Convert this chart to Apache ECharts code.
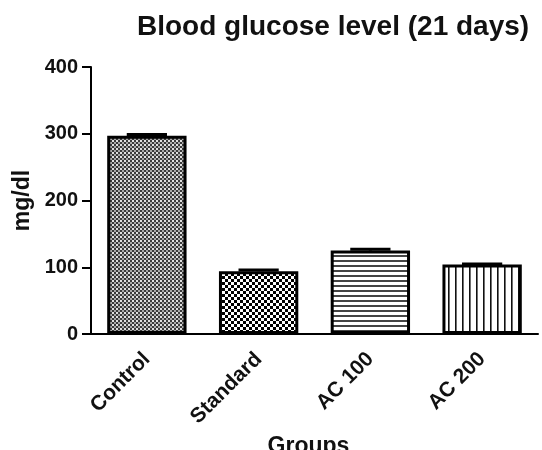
<!DOCTYPE html>
<html><head><meta charset="utf-8">
<script src="https://cdn.jsdelivr.net/npm/echarts@6/dist/echarts.min.js"></script>
<style>html,body{margin:0;padding:0;background:#fff}#c{width:542px;height:450px}</style>
</head><body><div id="c"></div>
<script>
var categories = ['Control', 'Standard', 'AC 100', 'AC 200'];
var values = [297, 94, 125, 104];
var errors = [2, 2, 2, 1];
var yTicks = [0, 100, 200, 300, 400];

function pat(w, h, draw) {
  var c = document.createElement('canvas');
  c.width = w; c.height = h;
  var g = c.getContext('2d');
  g.fillStyle = '#fff'; g.fillRect(0, 0, w, h);
  draw(g);
  return {image: c, repeat: 'repeat'};
}
var patterns = [
  pat(4, 4, function (g) { g.fillStyle = '#3a3a3a'; g.fillRect(0,0,4,4); g.fillStyle = '#e0e0e0'; g.fillRect(0,0,2,2); g.fillStyle='#a8a8a8'; g.fillRect(2,2,2,2); }),
  pat(6, 6, function (g) { g.fillStyle = '#000'; g.fillRect(0,0,3,3); g.fillRect(3,3,3,3); }),
  pat(6, 5.5, function (g) { g.fillStyle = '#444'; g.fillRect(0,0,6,2); }),
  pat(7, 6, function (g) { g.fillStyle = '#111'; g.fillRect(0,0,1.6,6); })
];

var F = '"Liberation Sans", Arial, sans-serif';
var chart = echarts.init(document.getElementById('c'));
chart.setOption({
  animation: false,
  title: {text: 'Blood glucose level (21 days)', left: 132, top: 8,
    textStyle: {fontFamily: F, fontWeight: 'bold', fontSize: 28, color: '#111'}},
  grid: {left: 91, right: 4, top: 67, bottom: 116, containLabel: false, outerBoundsMode: 'none'},
  xAxis: {
    type: 'category', data: categories,
    name: 'Groups', nameLocation: 'middle', nameGap: 93,
    nameTextStyle: {fontFamily: F, fontWeight: 'bold', fontSize: 23, color: '#111', padding: [0, 12, 0, 0]},
    axisLine: {lineStyle: {color: '#000', width: 2}},
    axisTick: {alignWithLabel: true, length: 8, lineStyle: {color: '#000', width: 2}},
    axisLabel: {rotate: 45, fontFamily: F, fontWeight: 'bold', fontSize: 21, color: '#111', margin: 22}
  },
  yAxis: {
    type: 'value', min: yTicks[0], max: yTicks[yTicks.length - 1], interval: 100,
    name: 'mg/dl', nameLocation: 'middle', nameGap: 57,
    nameTextStyle: {fontFamily: F, fontWeight: 'bold', fontSize: 23, color: '#111'},
    axisLine: {show: true, lineStyle: {color: '#000', width: 2}},
    axisTick: {show: true, length: 9, lineStyle: {color: '#000', width: 2}},
    axisLabel: {fontFamily: F, fontWeight: 'bold', fontSize: 20, color: '#111', margin: 13},
    splitLine: {show: false}
  },
  series: [{
    type: 'bar', barWidth: '71%',
    data: values.map(function (v, i) {
      return {value: v, itemStyle: {color: patterns[i], borderColor: '#000', borderWidth: 3}};
    }),
    z: 2
  }, {
    type: 'custom', z: 3,
    data: values.map(function (v, i) { return [i, v, errors[i]]; }),
    renderItem: function (params, api) {
      var x = api.value(0), v = api.value(1), e = api.value(2);
      var top = api.coord([x, v + e]);
      var base = api.coord([x, v]);
      var w = api.size([1, 0])[0] * 0.36;
      return {type: 'group', children: [
        {type: 'line', shape: {x1: top[0], y1: top[1], x2: base[0], y2: base[1]}, style: {stroke: '#000', lineWidth: 3}},
        {type: 'line', shape: {x1: top[0] - w / 2, y1: top[1], x2: top[0] + w / 2, y2: top[1]}, style: {stroke: '#000', lineWidth: 3}}
      ]};
    }
  }]
});
</script></body></html>
